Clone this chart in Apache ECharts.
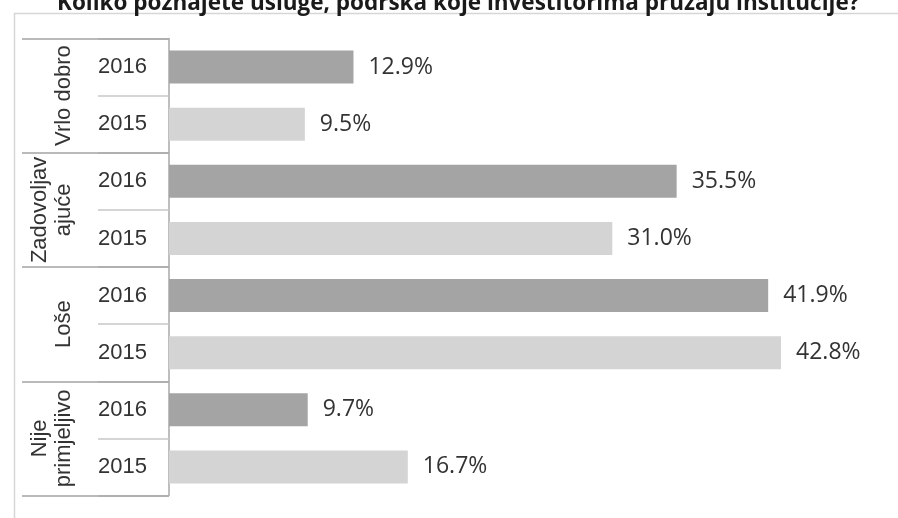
<!DOCTYPE html>
<html>
<head>
<meta charset="utf-8">
<script src="https://cdn.jsdelivr.net/npm/echarts@6/dist/echarts.min.js"></script>
<style>
html,body{margin:0;padding:0;background:#fff;}
#chart{width:898px;height:518px;}
</style>
</head>
<body>
<div id="chart"></div>
<script>
const titleText = 'Koliko poznajete usluge, podrška koje investitorima pružaju institucije?';
const groups = ['Vrlo dobro', 'Zadovoljav\najuće', 'Loše', 'Nije\nprimjeljivo'];
const years = ['2016', '2015'];
const values2016 = [12.9, 35.5, 41.9, 9.7];
const values2015 = [9.5, 31.0, 42.8, 16.7];

const yearCats = [];
const barData = [];
groups.forEach((g, i) => {
  yearCats.push(years[0]);
  barData.push({ value: values2016[i], itemStyle: { color: '#a4a4a4' } });
  yearCats.push(years[1]);
  barData.push({ value: values2015[i], itemStyle: { color: '#d4d4d4' } });
});

const chart = echarts.init(document.getElementById('chart'));
chart.setOption({
  backgroundColor: '#ffffff',
  animation: false,
  title: {
    text: titleText,
    left: 52,
    top: -13,
    textStyle: { fontFamily: 'Open Sans', fontWeight: 'bold', fontSize: 22.5, color: '#1a1a1a' }
  },
  graphic: [{
    type: 'rect',
    left: 12, top: 11,
    shape: { width: 940, height: 540 },
    style: { fill: 'none', stroke: '#d6d6d6', lineWidth: 1.5 },
    z: -10
  }],
  grid: { left: 169, right: 14, top: 38.5, bottom: 22.5, containLabel: false },
  xAxis: {
    type: 'value', min: 0, max: 50, show: false
  },
  yAxis: [{
    type: 'category',
    data: yearCats,
    inverse: true,
    position: 'left',
    axisLine: { show: true, lineStyle: { color: '#a8a8a8', width: 1.5 } },
    axisTick: { show: true, length: 71, interval: 0, lineStyle: { color: '#c8c8c8', width: 1.5 } },
    axisLabel: { interval: 0, margin: 22, fontFamily: 'Liberation Sans', fontSize: 22, color: '#333' },
    splitLine: { show: false }
  }, {
    type: 'category',
    data: groups,
    inverse: true,
    position: 'left',
    axisLine: { show: false },
    axisTick: { show: true, length: 147, interval: 0, lineStyle: { color: '#a4a4a4', width: 1.5 } },
    axisLabel: { interval: 0, rotate: 90, margin: 93, fontFamily: 'Liberation Sans', fontSize: 22, lineHeight: 24, color: '#333' },
    splitLine: { show: false }
  }],
  series: [{
    type: 'bar',
    yAxisIndex: 0,
    data: barData,
    barWidth: 33,
    label: {
      show: true,
      position: 'right',
      distance: 15,
      formatter: p => p.value.toFixed(1) + '%',
      fontFamily: 'Open Sans',
      fontSize: 23,
      color: '#333'
    }
  }]
});
</script>
</body>
</html>
